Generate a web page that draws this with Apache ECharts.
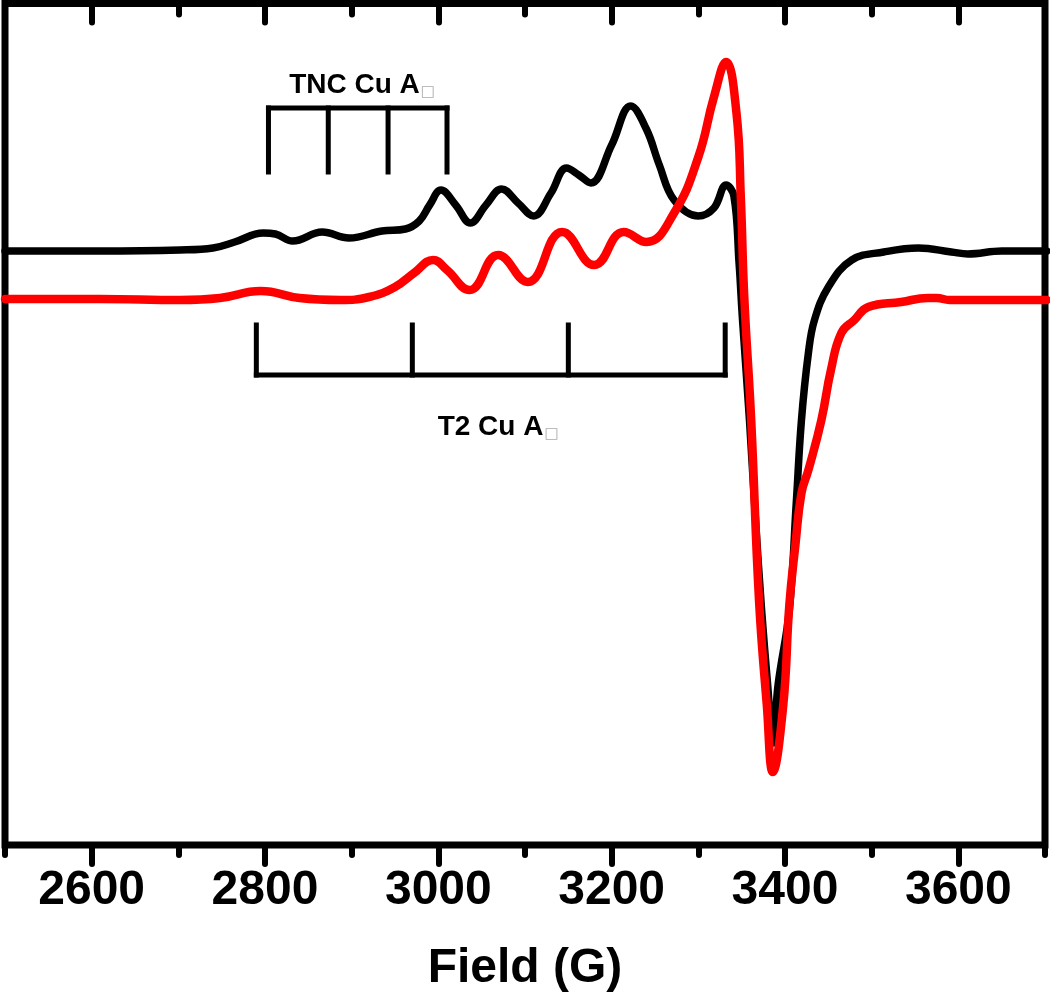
<!DOCTYPE html>
<html>
<head>
<meta charset="utf-8">
<script src="https://cdn.jsdelivr.net/npm/echarts@6/dist/echarts.min.js"></script>
<style>
html,body{margin:0;padding:0;background:#fff;}
#chart{width:1050px;height:1008px;}
</style>
</head>
<body>
<div id="chart"></div>
<script>
// Field (G) and signal (arbitrary units, offset traces)
const blackField = [2500,2609,2702,2740,2765,2798,2812,2832,2866,2897,2935,2962,2978,2990,3003,3020,3037,3055,3073,3092,3110,3130,3148,3162,3176,3200,3222,3240,3255,3272,3300,3318,3332,3341,3347,3351,3359,3366,3373,3380,3386,3392,3405,3413,3419,3427,3434,3450,3477,3514,3554,3592,3611,3650,3702];
const blackSignal = [594,594,595,597,603,612,611,604,613,607,614,616,624,640,655,640,622,640,656,642,629,652,677,670,662,700,739,716,680,645,629,637,660,649,582,525,425,325,235,160,102,160,235,342,425,492,525,558,585,593,597,593,591,594,594];

const redField = [2500,2609,2702,2748,2795,2840,2887,2920,2950,2972,2994,3010,3036,3069,3103,3143,3180,3214,3240,3272,3300,3318,3332,3344,3349,3353,3361,3370,3379,3386,3398,3405,3412,3419,3427,3442,3453,3465,3480,3496,3534,3565,3575,3590,3650,3702];
const redSignal = [546,546,545,547,554,547,545,548,558,572,585,575,555,590,563,613,580,613,603,632,688,748,783,732,648,548,425,245,140,73,140,240,300,352,375,425,475,512,525,538,543,547,547,545,545,545];

// Hyperfine splitting markers
const tncPositions = [2804, 2873, 2942, 3010];
const tncTop = 737, tncBottom = 673;
const t2Positions = [2790, 2970, 3150, 3331];
const t2Top = 520, t2Bottom = 470;

// Annotation labels
const labelTexts = ['TNC Cu A', 'T2 Cu A'];
const labelAnchors = [[2912, 760], [3069, 418]];

const majorTicks = [2600, 2800, 3000, 3200, 3400, 3600];
const minorTicks = [2500, 2700, 2900, 3100, 3300, 3500, 3700];

function zip(xs, ys){ return xs.map((x,i)=>[x, ys[i]]); }

function bracket(pos, top, bottom, hangDown){
  const segs = [];
  const base = hangDown ? top : bottom;
  const tip = hangDown ? bottom : top;
  segs.push([[pos[0], base],[pos[pos.length-1], base]]);
  pos.forEach(p => segs.push([[p, base],[p, tip]]));
  return segs;
}
const tncSegs = bracket(tncPositions, tncTop, tncBottom, true);
const t2Segs = bracket(t2Positions, t2Top, t2Bottom, false);

const FONT = "'Liberation Sans', Arial, Helvetica, sans-serif";

const segSeries = [];
tncSegs.concat(t2Segs).forEach(s => {
  segSeries.push({
    type:'line', xAxisIndex:0, yAxisIndex:0, data:s, symbol:'none', silent:true,
    lineStyle:{color:'#000', width:5, cap:'square'}, z:1, animation:false
  });
});

const chart = echarts.init(document.getElementById('chart'), null, {renderer:'canvas'});
const axisBase = {type:'value', min:2500, max:3700, gridIndex:0, splitLine:{show:false}};
const option = {
  animation:false,
  backgroundColor:'#fff',
  grid:{left:5, right:5, top:3.5, bottom:163, show:true, borderColor:'#000', borderWidth:7, containLabel:false},
  xAxis:[
    Object.assign({}, axisBase, {
      position:'bottom',
      axisLine:{show:false},
      axisTick:{show:true, customValues:majorTicks, length:19, lineStyle:{color:'#000', width:6, cap:'round'}},
      axisLabel:{show:true, customValues:majorTicks, margin:22, color:'#000', fontSize:48, fontWeight:'bold', fontFamily:FONT,
        formatter: v => String(v)},
      name:'Field (G)', nameLocation:'middle', nameGap:100,
      nameTextStyle:{color:'#000', fontSize:48, fontWeight:'bold', fontFamily:FONT}
    }),
    Object.assign({}, axisBase, {
      position:'bottom',
      axisLine:{show:false},
      axisTick:{show:true, customValues:minorTicks, length:10, lineStyle:{color:'#000', width:6, cap:'round'}},
      axisLabel:{show:false}
    }),
    Object.assign({}, axisBase, {
      position:'top',
      axisLine:{show:false},
      axisTick:{show:true, inside:true, customValues:majorTicks, length:19, lineStyle:{color:'#000', width:6, cap:'round'}},
      axisLabel:{show:false}
    }),
    Object.assign({}, axisBase, {
      position:'top',
      axisLine:{show:false},
      axisTick:{show:true, inside:true, customValues:minorTicks, length:11, lineStyle:{color:'#000', width:6, cap:'round'}},
      axisLabel:{show:false}
    })
  ],
  yAxis:[{type:'value', min:0, max:841.5, show:false, splitLine:{show:false}}],
  series: segSeries.concat([
    {
      type:'line', name:'black', data:zip(blackField, blackSignal), symbol:'none',
      smooth:0.4,
      lineStyle:{color:'#000', width:7.5, join:'round', cap:'round'}, z:3
    },
    {
      type:'line', name:'red', data:zip(redField, redSignal), symbol:'none',
      smooth:0.45,
      lineStyle:{color:'#ff0000', width:8.5, join:'round', cap:'round'}, z:4
    }
  ])
};
chart.setOption(option);

// annotation text placed via the chart's own coordinate conversion
const graphics = labelTexts.map((t, i) => {
  const p = chart.convertToPixel({gridIndex:0}, labelAnchors[i]);
  return {
    type:'text', x:p[0], y:p[1], z:10, silent:true,
    style:{
      text:'{t|' + t + '}{s|□}',
      align:'center', verticalAlign:'middle',
      rich:{
        t:{fontSize:28, fontWeight:'bold', fontFamily:FONT, fill:'#000'},
        s:{fontSize:15, fill:'#aaaaaa', fontFamily:"'DejaVu Sans', sans-serif", padding:[14,0,0,1]}
      }
    }
  };
});
chart.setOption({graphic:graphics});
</script>
</body>
</html>
